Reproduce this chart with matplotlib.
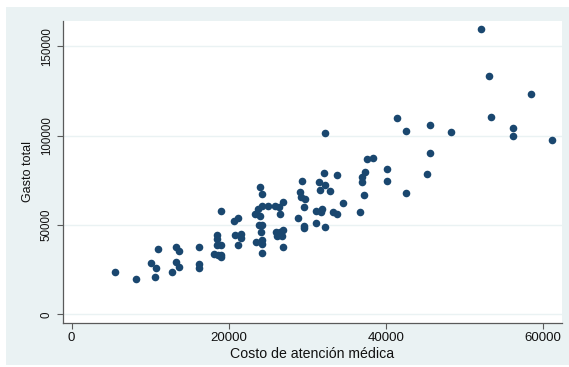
import matplotlib
matplotlib.use('Agg')
import matplotlib.pyplot as plt
from matplotlib.patches import Rectangle

# costo de atención médica vs gasto total
costo = [5580, 8260, 10150, 10940, 10750, 10570, 12830, 13240, 13610, 13240,
         13610, 16240, 16240, 16240, 18140, 18500, 18500, 18500, 19010, 18970,
         18600, 18970, 18970, 20630, 21180, 20810, 21230, 21600, 21550, 23400,
         24000, 24230, 23770, 24230, 24000, 23860, 24140, 24230, 24230, 24230,
         24230, 23490, 24970, 25840, 26350, 26950, 26540, 26070, 26540, 26170,
         26810, 26950, 26950, 29300, 29120, 29210, 29670, 29580, 28840, 29580,
         29580, 31560, 31520, 32260, 32160, 32900, 31060, 31840, 31790, 31060,
         32260, 32260, 33730, 33270, 33730, 34520, 36730, 36960, 36960, 37330,
         37190, 37560, 38300, 40190, 40190, 41390, 42550, 42500, 45180, 45590,
         45590, 48220, 52050, 53110, 53350, 56210, 56210, 58510, 61140]
gasto = [23940, 20010, 28800, 36660, 25810, 20760, 23560, 37780, 35160, 29180,
         26560, 37590, 28240, 26000, 33660, 44320, 42270, 38530, 38900, 57790,
         33100, 33100, 31790, 52370, 53860, 44140, 38530, 44890, 42830, 56110,
         71260, 67330, 58910, 60410, 55170, 50120, 45820, 49750, 41710, 39280,
         34040, 40400, 60780, 60410, 60030, 62650, 55920, 46010, 46010, 43950,
         43950, 47320, 37590, 74430, 68640, 65460, 64520, 60030, 53670, 49370,
         48060, 69570, 73870, 72560, 79110, 69010, 57600, 59100, 57420, 51060,
         48620, 101360, 77990, 57420, 56300, 62470, 57420, 73870, 76870, 79860,
         66580, 86970, 87340, 81540, 74430, 109600, 102300, 67890, 78550, 90330,
         105850, 101740, 159900, 133350, 110150, 103980, 99500, 123430, 97440]

x_ticks = [0, 20000, 40000, 60000]
y_ticks = [0, 50000, 100000, 150000]

plt.rcParams['font.family'] = ['Liberation Sans', 'DejaVu Sans']

W, H = 569, 367
fig = plt.figure(figsize=(W / 100, H / 100), dpi=100, facecolor='white')
fig.patches.append(Rectangle((6 / W, 2 / H), (W - 6) / W, (H - 9) / H,
                             transform=fig.transFigure, facecolor='#eaf2f3',
                             edgecolor='none', zorder=-5))

ax = fig.add_axes([62.7 / W, 44.3 / H, 499.3 / W, 302 / H])
ax.set_facecolor('white')
ax.scatter(costo, gasto, s=30, color='#1a476f', linewidths=0, zorder=3)

ax.set_xlim(-1120, 62390)
ax.set_ylim(-4700, 164300)
ax.set_xticks(x_ticks)
ax.set_yticks(y_ticks)
ax.set_yticklabels([str(v) for v in y_ticks], rotation=90, va='center')
ax.grid(axis='y', color='#eaf2f3', linewidth=1.0, zorder=1)
ax.grid(axis='x', visible=False)

for side in ('top', 'right'):
    ax.spines[side].set_visible(False)
for side in ('left', 'bottom'):
    ax.spines[side].set_color('#5a5a5a')
    ax.spines[side].set_linewidth(0.9)
ax.tick_params(colors='#5a5a5a', labelcolor='#111111', length=4, width=0.8)
ax.tick_params(axis='x', labelsize=9.5, pad=3)
ax.tick_params(axis='y', labelsize=8.3, pad=3)

ax.set_xlabel('Costo de atención médica', fontsize=10.2, labelpad=2,
              color='#111111')
ax.set_ylabel('Gasto total', fontsize=9, labelpad=5, color='#111111')

fig.savefig('out.png', dpi=100, facecolor=fig.get_facecolor())
